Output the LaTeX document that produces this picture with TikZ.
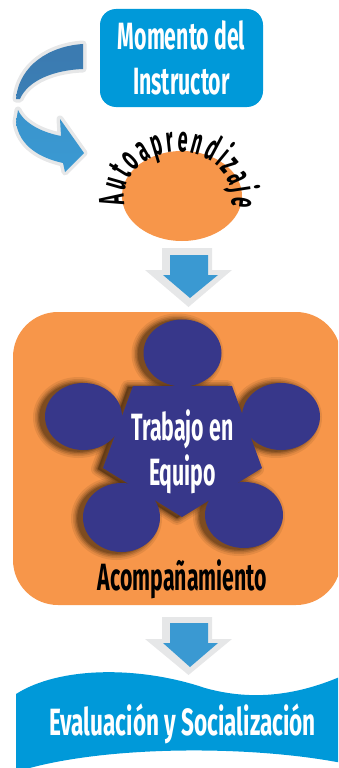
\documentclass[tikz,border=0pt]{standalone}
\usepackage{fontspec}
\newfontfamily\cond{Fira Sans}[FakeStretch=0.56]
\newfontfamily\arcfont{Fira Sans}[FakeStretch=0.5]
\usetikzlibrary{decorations.text,shapes.geometric}
\definecolor{boxblue}{HTML}{0099D9}
\definecolor{arrblue}{HTML}{3A99D2}
\definecolor{arrgray}{HTML}{E6E7E8}
\definecolor{orng}{HTML}{F7964A}
\definecolor{navy}{HTML}{37378A}
\definecolor{shadowbrown}{HTML}{5A3614}
\definecolor{darkarr}{HTML}{3B7AB0}
\tikzset{
  bigtext/.style={font=\cond\bfseries\fontsize{38}{45}\selectfont, inner sep=0},
  grayframe/.style={preaction={draw=arrgray,line width=7,line join=round}},
  downgray/.style={fill=arrgray},
  downblue/.style={fill=arrblue},
  blob/.style={fill=navy},
}
\begin{document}
\begin{tikzpicture}[x=1pt,y=1pt]
\useasboundingbox (0,0) rectangle (338,-768);
\clip (0,0) rectangle (338,-768);

% top box
\node[fill=boxblue, rounded corners=16, minimum width=163, minimum height=98, inner sep=0,
      text=white, align=center, font=\cond\bfseries\fontsize{38}{45}\selectfont] (mom) at (181.5,-58) {Momento del\\Instructor};

% curved arrow
\path[grayframe, top color=darkarr, bottom color=darkarr!85!arrblue]
  (83,-44) .. controls (50,-46) and (19,-65) .. (16,-99) -- (20,-99)
  .. controls (28,-80) and (55,-70) .. (83,-69) -- cycle;
\path[grayframe, top color=arrblue!85!darkarr, bottom color=arrblue]
  (18,-110) .. controls (25,-125) and (45,-133) .. (61,-136) -- (60,-119) -- (84,-153)
  -- (65,-172) -- (63,-163) .. controls (40,-158) and (19,-146) .. (16,-122) -- cycle;

% Autoaprendizaje circle
\node[ellipse, fill=orng, minimum width=120, minimum height=90, inner sep=0] (auto) at (182,-196) {};
\path[decorate, decoration={text along path,
   text={|\arcfont\bfseries\fontsize{36}{36}\selectfont|Autoaprendizaje},
   text align=fit to path}]
  (124.8,-204.8) arc[start angle=190, end angle=-12, x radius=54, y radius=45];

% down arrow 1
\coordinate (a1) at (189,-248);
\path[downgray] (162,-248) -- (212,-248) -- (212,-270) -- (232,-270) -- (188.5,-307) -- (145,-270) -- (162,-270) -- cycle;
\path[downblue] (170,-255) -- (208,-255) -- (208,-275) -- (218,-275) -- (190,-298) -- (163,-275) -- (170,-275) -- cycle;

% orange rounded rectangle
\node[fill=orng, rounded corners=45, minimum width=328, minimum height=293, inner sep=0] (acomp) at (177,-458.5) {};

% shadows
\foreach \d/\o in {7/0.12,5/0.16,3.5/0.22,2/0.3,0.8/0.4}{
  \foreach \cx/\cy/\rx/\ry in {182.5/353/39/33.5, 83.5/416.5/38.5/33.5, 281/416.5/39/33.5, 121.5/517.5/38.5/34.5, 244/515/39/33}{
    \fill[shadowbrown, opacity=\o] (\cx-5,-\cy-1) ellipse [x radius=\rx+\d, y radius=\ry+\d];
  }
  \path[fill=shadowbrown, draw=shadowbrown, opacity=\o, line width=2*\d, line join=round]
    (128,-387) -- (227,-387) -- (257,-469) -- (177,-518) -- (98,-469) -- cycle;
}
% blob
\foreach \cx/\cy/\rx/\ry in {182.5/353/39/33.5, 83.5/416.5/38.5/33.5, 281/416.5/39/33.5, 121.5/517.5/38.5/34.5, 244/515/39/33}{
  \fill[blob] (\cx,-\cy) ellipse [x radius=\rx, y radius=\ry];
}
\path[blob] (133,-386) -- (232,-386) -- (262,-468) -- (182,-517) -- (103,-468) -- cycle;

\node[bigtext, text=white, anchor=base] (tr1) at (182.5,-440) {Trabajo en};
\node[bigtext, text=white, anchor=base] (tr2) at (182.5,-485) {Equipo};
\node[bigtext, text=black, anchor=base] (acl) at (182.5,-590) {Acompañamiento};

% down arrow 2
\path[downgray] (162,-617) -- (212,-617) -- (212,-639) -- (232,-639) -- (188.5,-675) -- (145,-639) -- (162,-639) -- cycle;
\path[downblue] (170,-623) -- (208,-623) -- (208,-643) -- (218,-643) -- (190,-667) -- (163,-643) -- (170,-643) -- cycle;

% banner
\fill[boxblue] (16,-694) .. controls (60,-666) and (140,-666) .. (205,-688)
  .. controls (255,-702) and (300,-694) .. (342,-676) -- (342,-763)
  .. controls (250,-745) and (100,-745) .. (16,-772) -- cycle;
\node[bigtext, text=white, anchor=base, xscale=1.06] (ev) at (182.5,-735) {Evaluación y Socialización};
\end{tikzpicture}
\end{document}
